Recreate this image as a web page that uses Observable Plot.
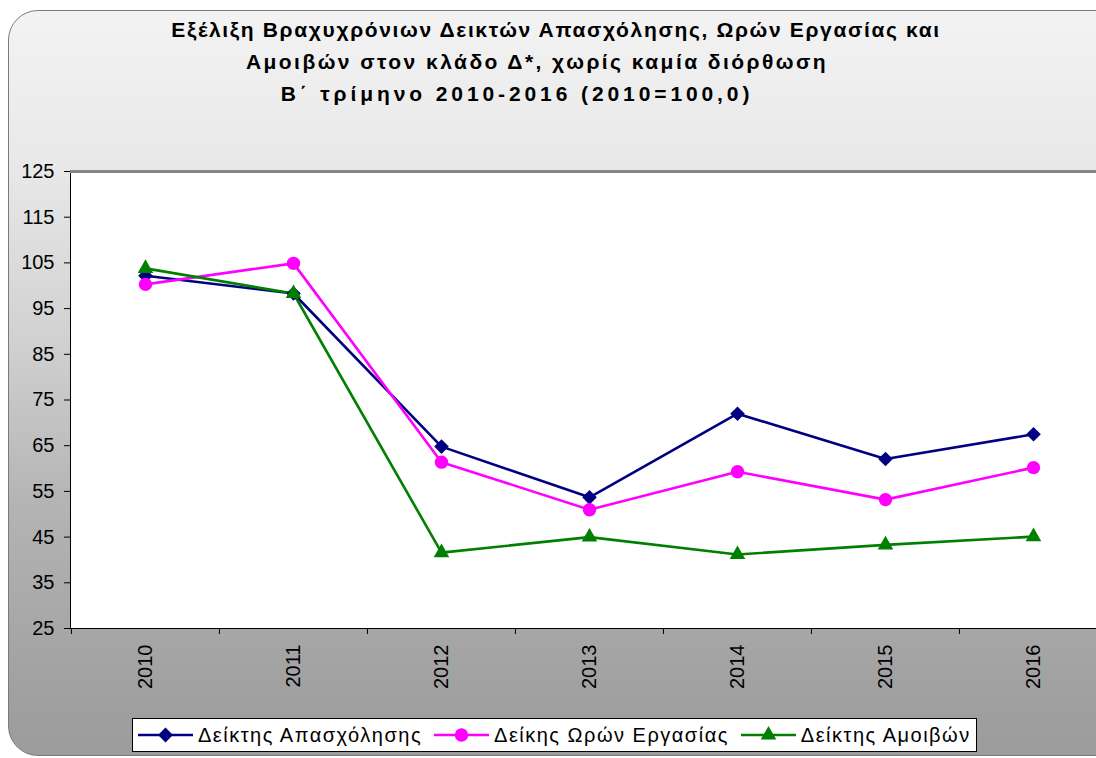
<!DOCTYPE html>
<html><head><meta charset="utf-8">
<script src="https://cdn.jsdelivr.net/npm/d3@7"></script>
<script src="https://cdn.jsdelivr.net/npm/@observablehq/plot@0.6"></script>
<style>
html,body{margin:0;padding:0;width:1096px;height:758px;overflow:hidden;background:#fff;font-family:"Liberation Sans",Arial,sans-serif;}
#wrap{position:absolute;left:0;top:0;width:1096px;height:758px;overflow:hidden;}
#frame{position:absolute;left:8px;top:10px;width:1140px;height:744px;border:1.5px solid #7a7a7a;border-radius:30px;background:linear-gradient(#f3f3f3 0%,#e8e8e8 21%,#d0d0d0 45%,#b4b4b4 66%,#a0a0a0 92%,#9c9c9c 100%);}
.tl{position:absolute;width:1000px;text-align:center;font-weight:bold;font-size:21px;white-space:nowrap;color:#000;}
#chart{position:absolute;left:0;top:160px;width:1110px;}
#chart svg{max-width:none;}
#legend{position:absolute;left:132px;top:718px;width:843px;height:32px;border:1px solid #000;background:#fff;display:flex;align-items:center;font-size:20px;letter-spacing:1.5px;color:#000;box-sizing:content-box;white-space:nowrap;}
.item{display:flex;align-items:center;}
.item svg{margin-right:5px;}
.item span{margin-right:12px;}
</style></head>
<body>
<div id="wrap">
  <div id="frame"></div>
  <div id="t1" class="tl"></div>
  <div id="t2" class="tl"></div>
  <div id="t3" class="tl"></div>
  <div id="chart"></div>
  <div id="legend"></div>
</div>
<script>
const titleLines = [
  "Εξέλιξη Βραχυχρόνιων Δεικτών Απασχόλησης, Ωρών Εργασίας και",
  "Αμοιβών στον κλάδο Δ*, χωρίς καμία διόρθωση",
  "Β΄ τρίμηνο 2010-2016 (2010=100,0)"
];
const years = ["2010","2011","2012","2013","2014","2015","2016"];
const employment = [102.2, 98.3, 64.8, 53.7, 72.0, 62.1, 67.5];
const hours = [100.3, 104.9, 61.4, 51.0, 59.3, 53.2, 60.2];
const wages = [103.8, 98.3, 41.6, 45.0, 41.2, 43.3, 45.1];
const seriesNames = ["Δείκτης Απασχόλησης", "Δείκης Ωρών Εργασίας", "Δείκτης Αμοιβών"];
const seriesColors = ["#000080", "#ff00ff", "#008000"];
const seriesSymbols = ["diamond2", "circle", "triangle"];
const yTicks = [25, 35, 45, 55, 65, 75, 85, 95, 105, 115, 125];

// title lines
const titleCenters = [556, 537, 517];
const titleTops = [18, 50, 82];
const titleSpacing = [1.65, 2.45, 3.9];
titleLines.forEach((t, i) => {
  const el = document.getElementById("t" + (i + 1));
  el.textContent = t;
  el.style.left = (titleCenters[i] - 500) + "px";
  el.style.top = titleTops[i] + "px";
  el.style.letterSpacing = titleSpacing[i] + "px";
});

const seriesValues = [employment, hours, wages];
const data = [];
seriesNames.forEach((s, si) => years.forEach((y, i) => data.push({year: y, value: seriesValues[si][i], series: s})));

const W = 1110, ML = 70, MR = 3;
const step = (W - ML - MR) / years.length;

const chart = Plot.plot({
  width: W, height: 540,
  marginLeft: ML, marginRight: MR, marginTop: 11, marginBottom: 72,
  style: {background: "transparent", fontFamily: "Liberation Sans, Arial, sans-serif", fontSize: "20px", color: "#000", overflow: "visible", maxWidth: "none"},
  x: {type: "point", domain: years, padding: 0.5},
  y: {domain: [25, 125]},
  color: {domain: seriesNames, range: seriesColors},
  marks: [
    Plot.frame({fill: "white", stroke: "#000", strokeWidth: 1}),
    Plot.ruleY([125], {stroke: "#858585", strokeWidth: 3}),
    Plot.axisY({ticks: yTicks, tickSize: 6, tickPadding: 10, label: null, stroke: "#000", fontSize: 20}),
    Plot.axisX({tickSize: 6, text: null, dx: -step / 2, label: null, stroke: "#000"}),
    Plot.axisX({tickSize: 0, tickRotate: -90, tickPadding: 16, label: null, fontSize: 20}),
    Plot.line(data, {x: "year", y: "value", z: "series", stroke: "series", strokeWidth: 2.6}),
    ...seriesNames.map((s, si) => Plot.dot(data.filter(d => d.series === s), {
      x: "year", y: "value", symbol: seriesSymbols[si], fill: seriesColors[si], stroke: "none",
      r: si === 0 ? 6.6 : si === 1 ? 6.7 : 5.8
    }))
  ]
});
document.getElementById("chart").appendChild(chart);

// legend
const legend = document.getElementById("legend");
seriesNames.forEach((s, i) => {
  const item = document.createElement("div");
  item.className = "item";
  if (i === 0) item.style.marginLeft = "5px";
  const svg = d3.create("svg").attr("width", 55).attr("height", 20);
  svg.append("line").attr("x1", 0).attr("x2", 55).attr("y1", 10).attr("y2", 10)
    .attr("stroke", seriesColors[i]).attr("stroke-width", 2.6);
  svg.append("path").attr("transform", "translate(27.5,10)")
    .attr("d", d3.symbol(i === 0 ? d3.symbolDiamond2 : i === 1 ? d3.symbolCircle : d3.symbolTriangle, i === 2 ? 105 : 140)())
    .attr("fill", seriesColors[i]);
  item.appendChild(svg.node());
  const span = document.createElement("span");
  span.textContent = s;
  item.appendChild(span);
  legend.appendChild(item);
});
</script>
</body></html>
